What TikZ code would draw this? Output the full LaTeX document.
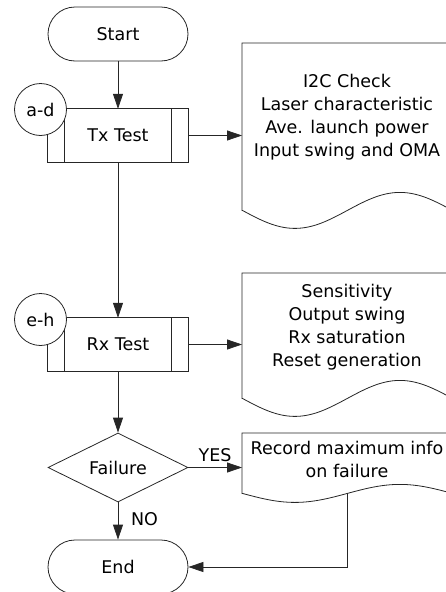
\documentclass[tikz,border=0pt]{standalone}
\usepackage{fontspec}
\setmainfont{DejaVu Sans}
\usetikzlibrary{shapes.geometric,arrows.meta}
\begin{document}
\begin{tikzpicture}[x=1pt,y=-1pt,
  every node/.style={font=\fontsize{17.5}{23}\selectfont, inner sep=0pt},
  ln/.style={draw=black!85, line width=0.8pt},
  arr/.style={ln, -{Triangle[length=15pt,width=10pt]}},
  term/.style={ln, rectangle, rounded corners=27pt, minimum width=140pt, minimum height=54pt},
  proc/.style={rectangle, minimum width=140pt, minimum height=53pt},
  conn/.style={ln, circle, fill=white, minimum size=52pt},
  dec/.style={ln, diamond, aspect=2.03, minimum width=140pt, minimum height=69pt},
  docbox/.style={rectangle, anchor=north west, minimum width=210pt},
  doctext/.style={align=center}
]
\useasboundingbox (0,0) rectangle (446,592);
\clip (0,0) rectangle (446,592);

% Start / End
\node[term] (start) at (118,34) {Start};
\node[term] (end) at (118,567) {End};

% Tx Test predefined process
\node[proc] (tx) at (118,135.5) {Tx Test};
\draw[ln] (tx.north west) rectangle (tx.south east);
\draw[ln] ([xshift=17pt]tx.north west) -- ([xshift=17pt]tx.south west);
\draw[ln] ([xshift=-17pt]tx.north east) -- ([xshift=-17pt]tx.south east);
\node[conn] (ad) at (40.5,109.5) {a-d};

% Rx Test predefined process
\node[proc] (rx) at (118,344.5) {Rx Test};
\draw[ln] (rx.north west) rectangle (rx.south east);
\draw[ln] ([xshift=17pt]rx.north west) -- ([xshift=17pt]rx.south west);
\draw[ln] ([xshift=-17pt]rx.north east) -- ([xshift=-17pt]rx.south east);
\node[conn] (eh) at (40.5,319.5) {e-h};

% Decision
\node[dec] (fail) at (118,467.5) {Failure};

% Documents
\node[docbox, minimum height=167pt] (d1) at (242,43) {};
\draw[ln, fill=white] (d1.south west) -- (d1.north west) -- (d1.north east) -- (d1.south east)
  sin ++(-52.5,-18) cos ++(-52.5,18) sin ++(-52.5,18) cos ++(-52.5,-18) -- cycle;
\node[doctext] (t1) at (347,117) {I2C Check\\Laser characteristic\\Ave. launch power\\Input swing and OMA};

\node[docbox, minimum height=125pt] (d2) at (242,273) {};
\draw[ln, fill=white] (d2.south west) -- (d2.north west) -- (d2.north east) -- (d2.south east)
  sin ++(-52.5,-18) cos ++(-52.5,18) sin ++(-52.5,18) cos ++(-52.5,-18) -- cycle;
\node[doctext] (t2) at (347,327) {Sensitivity\\Output swing\\Rx saturation\\Reset generation};

\node[docbox, minimum height=60pt] (d3) at (242,433) {};
\draw[ln, fill=white] (d3.south west) -- (d3.north west) -- (d3.north east) -- (d3.south east)
  sin ++(-52.5,-9) cos ++(-52.5,9) sin ++(-52.5,9) cos ++(-52.5,-9) -- cycle;
\node[doctext] (t3) at (347,459.5) {Record maximum info\\on failure};

% Connectors
\draw[arr] (start.south) -- (tx.north);
\draw[arr] (tx.south) -- (rx.north);
\draw[arr] (rx.south) -- (fail.north);
\draw[arr] (fail.south) -- (end.north);
\draw[arr] (tx.east) -- (tx.east -| d1.west);
\draw[arr] (rx.east) -- (rx.east -| d2.west);
\draw[arr] (fail.east) -- (fail.east -| d3.west);
\draw[arr] (d3.south) -- (d3.south |- end.east) -- (end.east);

% Labels
\node (yes) at (215,455) {YES};
\node (no) at (144.5,519) {NO};
\end{tikzpicture}
\end{document}
